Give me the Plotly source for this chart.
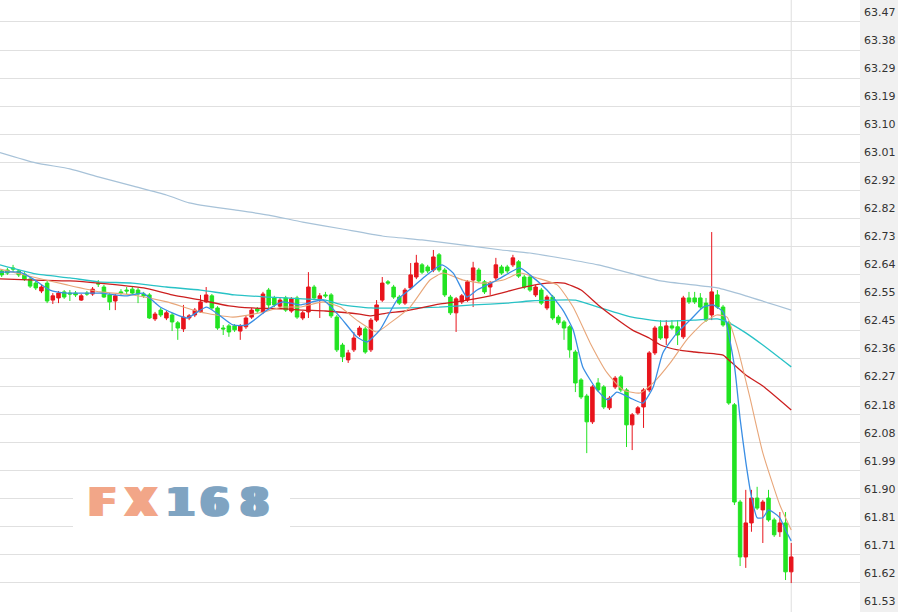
import plotly.graph_objects as go

# ---------------- data ----------------
opens = [62.650, 62.653, 62.660, 62.650, 62.640, 62.623, 62.610, 62.584, 62.610, 62.554,
         62.561, 62.581, 62.577, 62.577, 62.554, 62.577, 62.574, 62.610, 62.597, 62.571,
         62.551, 62.581, 62.587, 62.590, 62.587, 62.574, 62.571, 62.492, 62.521, 62.495,
         62.505, 62.479, 62.459, 62.495, 62.505, 62.515, 62.548, 62.568, 62.528, 62.462,
         62.469, 62.469, 62.452, 62.466, 62.498, 62.525, 62.515, 62.587, 62.561, 62.534,
         62.561, 62.518, 62.561, 62.495, 62.515, 62.597, 62.558, 62.571, 62.571, 62.498,
         62.406, 62.357, 62.390, 62.439, 62.459, 62.390, 62.488, 62.554, 62.614, 62.597,
         62.564, 62.544, 62.594, 62.630, 62.670, 62.663, 62.653, 62.703, 62.653, 62.564,
         62.512, 62.548, 62.554, 62.620, 62.653, 62.614, 62.597, 62.627, 62.663, 62.663,
         62.670, 62.680, 62.630, 62.630, 62.571, 62.587, 62.528, 62.564, 62.498, 62.482,
         62.466, 62.383, 62.291, 62.238, 62.153, 62.281, 62.268, 62.199, 62.268, 62.301,
         62.258, 62.143, 62.182, 62.202, 62.258, 62.380, 62.466, 62.429, 62.469, 62.466,
         62.433, 62.561, 62.561, 62.561, 62.544, 62.505, 62.571, 62.531, 62.479, 62.209,
         61.889, 61.708, 61.820, 61.902, 61.863, 61.902, 61.830, 61.791, 61.820, 61.659]

highs = [62.656, 62.660, 62.670, 62.656, 62.646, 62.630, 62.617, 62.604, 62.617, 62.577,
         62.584, 62.587, 62.587, 62.584, 62.574, 62.584, 62.597, 62.620, 62.604, 62.577,
         62.574, 62.590, 62.597, 62.597, 62.594, 62.581, 62.577, 62.515, 62.528, 62.518,
         62.512, 62.485, 62.538, 62.508, 62.528, 62.571, 62.597, 62.574, 62.534, 62.472,
         62.475, 62.475, 62.475, 62.502, 62.528, 62.531, 62.581, 62.594, 62.568, 62.561,
         62.568, 62.564, 62.568, 62.518, 62.646, 62.604, 62.577, 62.581, 62.577, 62.505,
         62.413, 62.390, 62.449, 62.469, 62.466, 62.495, 62.554, 62.630, 62.620, 62.604,
         62.571, 62.594, 62.676, 62.703, 62.676, 62.670, 62.719, 62.709, 62.660, 62.571,
         62.564, 62.574, 62.620, 62.680, 62.660, 62.620, 62.617, 62.693, 62.670, 62.670,
         62.703, 62.686, 62.637, 62.637, 62.604, 62.594, 62.571, 62.571, 62.505, 62.488,
         62.472, 62.390, 62.297, 62.245, 62.274, 62.297, 62.274, 62.238, 62.304, 62.307,
         62.264, 62.182, 62.205, 62.264, 62.386, 62.469, 62.488, 62.488, 62.488, 62.488,
         62.568, 62.581, 62.581, 62.577, 62.561, 62.778, 62.587, 62.538, 62.485, 62.215,
         61.896, 61.929, 61.929, 61.939, 61.896, 61.929, 61.837, 61.856, 61.856, 61.754]

lows = [62.630, 62.637, 62.646, 62.630, 62.617, 62.594, 62.587, 62.577, 62.544, 62.541,
        62.544, 62.558, 62.551, 62.564, 62.551, 62.568, 62.568, 62.597, 62.561, 62.521,
        62.521, 62.571, 62.574, 62.571, 62.544, 62.561, 62.492, 62.485, 62.498, 62.488,
        62.452, 62.423, 62.449, 62.488, 62.498, 62.512, 62.544, 62.521, 62.456, 62.439,
        62.433, 62.449, 62.423, 62.459, 62.492, 62.512, 62.508, 62.528, 62.531, 62.528,
        62.515, 62.512, 62.492, 62.488, 62.495, 62.554, 62.495, 62.561, 62.495, 62.383,
        62.350, 62.347, 62.383, 62.433, 62.377, 62.383, 62.482, 62.548, 62.604, 62.558,
        62.538, 62.538, 62.587, 62.623, 62.640, 62.643, 62.646, 62.646, 62.564, 62.505,
        62.449, 62.541, 62.548, 62.531, 62.610, 62.574, 62.571, 62.620, 62.637, 62.643,
        62.663, 62.627, 62.590, 62.581, 62.564, 62.538, 62.521, 62.488, 62.472, 62.423,
        62.364, 62.251, 62.228, 62.050, 62.146, 62.251, 62.195, 62.192, 62.261, 62.251,
        62.070, 62.060, 62.176, 62.133, 62.251, 62.373, 62.423, 62.406, 62.456, 62.406,
        62.426, 62.541, 62.541, 62.525, 62.482, 62.488, 62.525, 62.466, 62.209, 61.879,
        61.678, 61.672, 61.791, 61.863, 61.754, 61.824, 61.774, 61.774, 61.632, 61.622]

closes = [62.637, 62.643, 62.656, 62.637, 62.623, 62.600, 62.594, 62.597, 62.551, 62.568,
          62.577, 62.564, 62.574, 62.571, 62.568, 62.574, 62.590, 62.607, 62.564, 62.548,
          62.568, 62.577, 62.584, 62.577, 62.574, 62.568, 62.495, 62.508, 62.505, 62.512,
          62.482, 62.462, 62.498, 62.502, 62.521, 62.548, 62.571, 62.528, 62.462, 62.459,
          62.449, 62.456, 62.469, 62.495, 62.521, 62.518, 62.574, 62.538, 62.538, 62.554,
          62.521, 62.558, 62.498, 62.512, 62.597, 62.561, 62.568, 62.568, 62.502, 62.390,
          62.367, 62.380, 62.429, 62.462, 62.383, 62.488, 62.538, 62.610, 62.610, 62.564,
          62.544, 62.587, 62.637, 62.676, 62.646, 62.650, 62.696, 62.653, 62.571, 62.512,
          62.558, 62.568, 62.614, 62.660, 62.617, 62.581, 62.610, 62.670, 62.643, 62.650,
          62.693, 62.633, 62.597, 62.587, 62.597, 62.544, 62.564, 62.495, 62.479, 62.462,
          62.390, 62.281, 62.235, 62.153, 62.268, 62.258, 62.202, 62.231, 62.297, 62.258,
          62.143, 62.176, 62.199, 62.258, 62.380, 62.462, 62.429, 62.469, 62.462, 62.439,
          62.561, 62.548, 62.548, 62.531, 62.488, 62.581, 62.531, 62.472, 62.215, 61.889,
          61.708, 61.820, 61.902, 61.869, 61.889, 61.830, 61.781, 61.820, 61.659, 61.708]

# moving-average lines (x = bar position, y = value)
ma5_x = [-0.3, 3.2, 5.5, 8.5, 11.5, 17.3, 22, 24.9, 27.9, 32.6, 36.1, 40.7, 43.2, 46.7, 49.5,
         52.5, 56.6, 59.6, 62.5, 64.3, 66.6, 69.6, 72.4, 74.2, 77.5, 79.5, 81.9, 83.7, 87.2,
         91.2, 93, 96, 98.8, 100.6, 102.3, 104.8, 106.7, 108.3, 110.6, 112.9, 114.7, 116.4,
         118.9, 121.2, 123.5, 125.2, 127, 129, 130, 131, 132, 133, 134, 135, 136, 137, 138, 139]
ma5_y = [62.646, 62.646, 62.624, 62.587, 62.577, 62.577, 62.568, 62.577, 62.531, 62.495,
         62.531, 62.472, 62.472, 62.521, 62.548, 62.538, 62.554, 62.498, 62.433, 62.416,
         62.456, 62.554, 62.597, 62.627, 62.670, 62.643, 62.564, 62.587, 62.620, 62.660,
         62.637, 62.587, 62.521, 62.456, 62.334, 62.258, 62.225, 62.251, 62.232, 62.215,
         62.268, 62.380, 62.446, 62.488, 62.531, 62.538, 62.515, 62.337, 62.163, 62.021,
         61.906, 61.837, 61.837, 61.863, 61.853, 61.837, 61.797, 61.761]

ma10_x = [-0.3, 5.5, 11.5, 17.3, 23.1, 29.1, 34.9, 40.7, 45.5, 49.5, 52.5, 56.6, 59.6, 62.5,
          66, 68.4, 71.9, 75.4, 77.7, 81.2, 84.7, 88.3, 91.3, 94.2, 97.8, 100.6, 103.6,
          106.6, 109.4, 112.4, 114.7, 117.7, 120.6, 123.5, 125.9, 127.7, 129.5, 131.7, 134,
          137, 139]
ma10_y = [62.656, 62.630, 62.604, 62.581, 62.571, 62.548, 62.515, 62.498, 62.512, 62.531,
          62.531, 62.548, 62.531, 62.488, 62.449, 62.479, 62.531, 62.620, 62.643, 62.620,
          62.610, 62.620, 62.643, 62.627, 62.604, 62.531, 62.413, 62.314, 62.258, 62.248,
          62.281, 62.347, 62.423, 62.479, 62.505, 62.498, 62.400, 62.235, 62.051, 61.879,
          61.797]

ma30_x = [-0.3, 6, 12, 17, 25, 30, 35, 40, 44, 50, 53, 57, 63, 65, 68, 71, 77, 80, 86, 92,
          96, 99, 102, 105, 108, 111, 114, 116, 119, 122, 127, 128, 131, 134, 139]
ma30_y = [62.624, 62.620, 62.617, 62.610, 62.594, 62.571, 62.554, 62.535, 62.528, 62.525,
          62.521, 62.518, 62.508, 62.502, 62.512, 62.518, 62.541, 62.548, 62.568, 62.597,
          62.610, 62.610, 62.587, 62.538, 62.495, 62.456, 62.429, 62.406, 62.390, 62.383,
          62.373, 62.357, 62.307, 62.271, 62.192]

ma60_x = [-0.3, 6, 12, 17, 23, 29, 35, 41, 47, 53, 57, 60, 65, 71, 77, 83, 89, 93, 97, 101,
          105, 111, 116, 122, 126, 128, 131, 134, 139]
ma60_y = [62.670, 62.640, 62.627, 62.614, 62.610, 62.597, 62.587, 62.571, 62.564, 62.558,
          62.554, 62.538, 62.528, 62.528, 62.531, 62.538, 62.544, 62.551, 62.554, 62.554,
          62.531, 62.498, 62.485, 62.488, 62.492, 62.479, 62.446, 62.406, 62.334]

ma120_x = [-0.3, 6, 12, 17, 23, 29, 33, 35, 41, 47, 53, 60, 67, 74, 81, 88, 93, 105, 116,
           126, 131, 139]
ma120_y = [63.040, 63.006, 62.986, 62.960, 62.930, 62.900, 62.874, 62.867, 62.851, 62.834,
           62.811, 62.788, 62.765, 62.752, 62.736, 62.719, 62.709, 62.670, 62.617, 62.594,
           62.568, 62.521]

tick_labels = ["61.53", "61.62", "61.71", "61.81", "61.90", "61.99", "62.08", "62.18",
               "62.27", "62.36", "62.45", "62.55", "62.64", "62.73", "62.82", "62.92",
               "63.01", "63.10", "63.19", "63.29", "63.38", "63.47"]

logo_chars = ["F", "X", "1", "6", "8"]

# ---------------- figure ----------------
W, H = 898, 612
R_MARGIN = 38
PLOT_W = W - R_MARGIN
GRID_PX = 28.05          # pixel distance between gridlines
BAR_PX = 5.68            # pixel distance between bars
FIRST_BAR_PX = 1.7

lo, hi = float(tick_labels[0]), float(tick_labels[-1])
step = (hi - lo) / (len(tick_labels) - 1)
tick_vals = [lo + k * step for k in range(len(tick_labels))]
per_px = step / GRID_PX
y_range = [lo - 1 * per_px, lo + (H - 1) * per_px]

x_lo = -FIRST_BAR_PX / BAR_PX
x_range = [x_lo, x_lo + PLOT_W / BAR_PX]

n = len(closes)
idx = list(range(n))

fig = go.Figure()
fig.add_trace(go.Candlestick(
    x=idx, open=opens, high=highs, low=lows, close=closes,
    increasing=dict(line=dict(color="#e8141c", width=1), fillcolor="#e8141c"),
    decreasing=dict(line=dict(color="#22e322", width=1), fillcolor="#22e322"),
    whiskerwidth=0, showlegend=False, hoverinfo="skip"))


def add_line(xs, ys, color, width):
    fig.add_trace(go.Scatter(x=xs, y=ys, mode="lines",
                             line=dict(color=color, width=width, shape="spline", smoothing=0.5),
                             showlegend=False, hoverinfo="skip"))


add_line(ma120_x, ma120_y, "#a7c2d8", 1.2)
add_line(ma60_x, ma60_y, "#28c2c6", 1.3)
add_line(ma30_x, ma30_y, "#cc1f1f", 1.3)
add_line(ma10_x, ma10_y, "#e8a679", 1.1)
add_line(ma5_x, ma5_y, "#3a8ee4", 1.3)

shapes = [
    # gray strip behind the price labels
    dict(type="rect", xref="paper", yref="paper", x0=1, x1=W / PLOT_W, y0=0, y1=1,
         fillcolor="#f0f0f0", line=dict(width=0), layer="below"),
    # vertical line through the last bar
    dict(type="line", xref="x", yref="paper", x0=n - 1, x1=n - 1, y0=0, y1=1,
         line=dict(color="#dedede", width=1), layer="below"),
    # white box behind the watermark
    dict(type="rect", xref="paper", yref="paper", x0=73 / PLOT_W, x1=290 / PLOT_W,
         y0=1 - 533 / H, y1=1 - 477 / H, fillcolor="white", line=dict(width=0), layer="above"),
]

logo_x_px = [102, 141, 180, 214, 254]
logo_cols = ["#f2a688", "#f2a688", "#7fa4c2", "#7fa4c2", "#7fa4c2"]
annotations = []
for ch, xp, col in zip(logo_chars, logo_x_px, logo_cols):
    shadow = ", ".join("%gpx 0 0 %s" % (d, col) for d in (-3, -1.5, 1.5, 3))
    annotations.append(dict(text="<b>" + ch + "</b>", xref="paper", yref="paper",
                            x=xp / PLOT_W, y=1 - 502 / H, xanchor="center", yanchor="middle",
                            showarrow=False,
                            font=dict(family="DejaVu Sans", size=39, color=col, shadow=shadow)))

fig.update_layout(
    width=W, height=H,
    margin=dict(l=0, r=R_MARGIN, t=0, b=0, pad=0),
    paper_bgcolor="white", plot_bgcolor="white",
    boxgap=0.12,
    shapes=shapes, annotations=annotations,
    xaxis=dict(range=x_range, showgrid=False, zeroline=False, showticklabels=False,
               showline=False, ticks="", rangeslider=dict(visible=False), fixedrange=True),
    yaxis=dict(range=y_range, side="right", tickvals=tick_vals, ticktext=tick_labels,
               showgrid=True, gridcolor="#e0e0e0", gridwidth=1, zeroline=False,
               showline=False, ticks="", ticklabelshift=-10, ticklabelstandoff=3,
               tickfont=dict(family="DejaVu Sans", size=11, color="#333333"), fixedrange=True),
)

fig.write_html("out.html", post_script="document.body.style.margin='0';",
               config={"displayModeBar": False})
